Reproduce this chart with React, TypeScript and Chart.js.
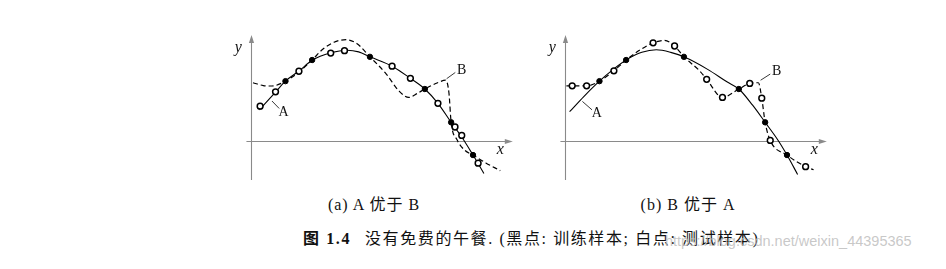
import React, { useEffect, useRef } from "react";
import { Chart, registerables } from "chart.js";

Chart.register(...registerables);

// ---------- data (x, y pairs in plot units; axes cross at 0,0) ----------
const trainPoints = [
  [3.6, 6.37], [6.37, 8.63], [12.37, 8.97], [18.07, 5.53], [20.8, 1.97], [23.07, -1.53],
];

const testPointsA = [
  [0.97, 3.7], [2.57, 5.23], [5.0, 7.43], [8.3, 9.37], [9.73, 9.63], [14.67, 7.97],
  [16.57, 6.67], [19.43, 4.0], [21.2, 1.47], [21.9, 0.57], [23.6, -2.4],
];

const testPointsB = [
  [0.77, 5.87], [2.27, 5.87], [5.1, 7.47], [9.17, 10.47], [11.4, 10.13], [14.73, 6.57],
  [16.37, 4.63], [19.2, 6.13], [20.45, 4.55], [21.33, 0.03], [25.0, -2.77],
];

// curve A / curve B in panel (a)
const curveA_panelA = [
  [0.9, 3.3], [2.57, 5.2], [3.6, 6.37], [5.0, 7.45], [6.37, 8.6], [8.3, 9.4], [10.0, 9.68],
  [11.2, 9.5], [12.37, 8.97], [14.67, 7.97], [16.57, 6.67], [18.07, 5.53], [19.43, 4.0],
  [20.8, 1.97], [21.9, 0.4], [23.07, -1.53], [24.2, -3.5],
];
const curveB_panelA = [
  [0.23, 6.2], [1.3, 5.9], [2.2, 5.85], [3.6, 6.37], [5.0, 7.35], [6.37, 8.63], [7.5, 9.8],
  [8.8, 10.6], [9.9, 10.8], [11.0, 10.4], [12.37, 8.97], [14.07, 7.13], [15.4, 5.3],
  [16.4, 4.63], [17.4, 5.13], [18.07, 5.53], [19.4, 6.2], [20.23, 6.47], [20.57, 5.13],
  [20.8, 1.97], [21.4, 0.13], [22.23, -1.03], [23.07, -1.53], [24.4, -2.37], [25.9, -3.2],
];

// curve A / curve B in panel (b)
const curveA_panelB = [
  [0.5, 3.1], [2.0, 4.75], [3.6, 6.37], [5.0, 7.6], [6.37, 8.63], [8.0, 9.45], [9.5, 9.72],
  [11.0, 9.45], [12.37, 8.97], [14.83, 7.63], [16.83, 6.3], [18.07, 5.53], [19.5, 3.8],
  [20.8, 1.97], [22.17, 0.0], [23.07, -1.53], [24.17, -3.6],
];
const curveB_panelB = [
  [0.17, 5.87], [0.77, 5.87], [2.27, 5.87], [3.6, 6.37], [5.1, 7.47], [6.37, 8.63],
  [7.8, 9.7], [9.17, 10.47], [10.33, 10.73], [11.4, 10.13], [12.37, 8.97], [14.0, 7.47],
  [14.73, 6.57], [16.37, 4.63], [18.07, 5.53], [19.2, 6.13], [20.1, 6.2], [20.45, 4.55],
  [20.8, 1.97], [21.33, 0.03], [23.07, -1.53], [25.0, -2.77], [25.83, -3.1],
];

const captionA = "(a) A 优于 B";
const captionB = "(b) B 优于 A";
const figureNo = "图 1.4";
const figureTitle = "没有免费的午餐. (黑点: 训练样本; 白点: 测试样本)";
const watermark = "https://blog.csdn.net/weixin_44395365";

// ---------- helpers ----------
const toXY = (a: number[][]) => a.map(([x, y]) => ({ x, y }));

type Label = { text: string; at: [number, number]; from: [number, number]; to: [number, number] };

type PanelCfg = {
  curveA: number[][];
  curveB: number[][];
  test: number[][];
  labelA: Label;
  labelB: Label;
};

const decorPlugin = {
  id: "decor",
  beforeDatasetsDraw(chart: any, _a: any, opts: any) {
    const { ctx } = chart;
    const X = (v: number) => chart.scales.x.getPixelForValue(v);
    const Y = (v: number) => chart.scales.y.getPixelForValue(v);
    const col = "#8a8a8a";
    ctx.save();
    ctx.strokeStyle = col;
    ctx.fillStyle = col;
    ctx.lineWidth = 1.1;
    const y0 = Math.round(Y(0)) + 0.5;
    const x0 = Math.round(X(0)) + 0.5;
    const xs = X(opts.xAxis[0]);
    const xe = X(opts.xAxis[1]);
    const yb = Y(opts.yAxis[0]);
    const yt = Y(opts.yAxis[1]);
    ctx.beginPath();
    ctx.moveTo(xs, y0);
    ctx.lineTo(xe - 4, y0);
    ctx.moveTo(x0, yb);
    ctx.lineTo(x0, yt + 4);
    ctx.stroke();
    ctx.beginPath();
    ctx.moveTo(xe, y0);
    ctx.lineTo(xe - 8, y0 - 2.6);
    ctx.lineTo(xe - 8, y0 + 2.6);
    ctx.closePath();
    ctx.fill();
    ctx.beginPath();
    ctx.moveTo(x0, yt);
    ctx.lineTo(x0 - 2.6, yt + 8);
    ctx.lineTo(x0 + 2.6, yt + 8);
    ctx.closePath();
    ctx.fill();
    ctx.restore();
  },
  afterDatasetsDraw(chart: any, _a: any, opts: any) {
    const { ctx } = chart;
    const X = (v: number) => chart.scales.x.getPixelForValue(v);
    const Y = (v: number) => chart.scales.y.getPixelForValue(v);
    ctx.save();
    ctx.fillStyle = "#111";
    ctx.strokeStyle = "#222";
    ctx.textAlign = "center";
    ctx.textBaseline = "middle";
    ctx.font = "italic 16px 'Liberation Serif', 'DejaVu Serif', serif";
    ctx.fillText("y", X(opts.yLabel[0]), Y(opts.yLabel[1]));
    ctx.fillText("x", X(opts.xLabel[0]), Y(opts.xLabel[1]));
    ctx.font = "14px 'Liberation Serif', 'DejaVu Serif', serif";
    for (const l of opts.labels as Label[]) {
      ctx.lineWidth = 0.9;
      ctx.beginPath();
      ctx.moveTo(X(l.from[0]), Y(l.from[1]));
      ctx.lineTo(X(l.to[0]), Y(l.to[1]));
      ctx.stroke();
      ctx.fillText(l.text, X(l.at[0]), Y(l.at[1]));
    }
    ctx.restore();
  },
};

function Panel({ cfg, left, top }: { cfg: PanelCfg; left: number; top: number }) {
  const ref = useRef<HTMLCanvasElement>(null);
  useEffect(() => {
    if (!ref.current) return;
    const chart = new Chart(ref.current, {
      type: "scatter",
      data: {
        datasets: [
          {
            label: "train",
            data: toXY(trainPoints),
            pointRadius: 2.7,
            pointBackgroundColor: "#000",
            pointBorderColor: "#000",
            pointBorderWidth: 1,
            showLine: false,
            order: 0,
          },
          {
            label: "test",
            data: toXY(cfg.test),
            pointRadius: 2.9,
            pointBackgroundColor: "#fff",
            pointBorderColor: "#000",
            pointBorderWidth: 1.5,
            showLine: false,
            order: 1,
          },
          {
            label: "A",
            data: toXY(cfg.curveA),
            showLine: true,
            pointRadius: 0,
            borderColor: "#000",
            borderWidth: 1.1,
            cubicInterpolationMode: "monotone",
            order: 3,
          },
          {
            label: "B",
            data: toXY(cfg.curveB),
            showLine: true,
            pointRadius: 0,
            borderColor: "#000",
            borderWidth: 1.2,
            borderDash: [5, 3],
            cubicInterpolationMode: "monotone",
            order: 2,
          },
        ] as any,
      },
      options: {
        animation: false,
        responsive: false,
        events: [],
        layout: { padding: 0 },
        scales: {
          x: { type: "linear", min: -2, max: 28, display: false },
          y: { type: "linear", min: -5, max: 12, display: false },
        },
        plugins: {
          legend: { display: false },
          tooltip: { enabled: false },
          decor: {
            xAxis: [-0.45, 27.2],
            yAxis: [-4.2, 11.3],
            yLabel: [-1.3, 9.9],
            xLabel: [25.9, -1.0],
            labels: [cfg.labelA, cfg.labelB],
          },
        } as any,
      },
      plugins: [decorPlugin],
    });
    return () => chart.destroy();
  }, [cfg]);
  return (
    <canvas
      ref={ref}
      width={300}
      height={170}
      style={{ position: "absolute", left, top, width: 300, height: 170 }}
    />
  );
}

const panelA: PanelCfg = {
  curveA: curveA_panelA,
  curveB: curveB_panelA,
  test: testPointsA,
  labelA: { text: "A", at: [3.4, 3.07], from: [2.2, 4.25], to: [2.95, 3.45] },
  labelB: { text: "B", at: [21.9, 7.53], from: [20.33, 6.63], to: [21.23, 7.3] },
};
const panelB: PanelCfg = {
  curveA: curveA_panelB,
  curveB: curveB_panelB,
  test: testPointsB,
  labelA: { text: "A", at: [3.33, 2.97], from: [1.83, 4.2], to: [2.83, 3.3] },
  labelB: { text: "B", at: [22.0, 7.47], from: [20.33, 6.47], to: [21.33, 7.13] },
};

const serif = "'Liberation Serif', 'Noto Sans CJK SC', serif";

const subCaption = {
  position: "absolute" as const,
  top: 195,
  transform: "translateX(-50%)",
  whiteSpace: "nowrap" as const,
  font: `16px ${serif}`,
  letterSpacing: "1px",
  lineHeight: "20px",
  color: "#111",
};

export default function App() {
  return (
    <div
      style={{
        position: "absolute",
        left: 0,
        top: 0,
        width: 946,
        height: 269,
        background: "#fff",
        overflow: "hidden",
      }}
    >
      <Panel cfg={panelA} left={226} top={23} />
      <Panel cfg={panelB} left={540} top={23} />
      <div style={{ ...subCaption, left: 374 }}>{captionA}</div>
      <div style={{ ...subCaption, left: 688 }}>{captionB}</div>
      <div
        style={{
          position: "absolute",
          left: 303,
          top: 229,
          whiteSpace: "nowrap",
          font: `16px ${serif}`,
          letterSpacing: "1.6px",
          lineHeight: "20px",
          color: "#111",
        }}
      >
        <span style={{ fontWeight: "bold" }}>{figureNo}</span>
        <span style={{ marginLeft: 14 }}>{figureTitle}</span>
      </div>
      <div
        style={{
          position: "absolute",
          left: 665,
          top: 233,
          whiteSpace: "nowrap",
          font: "14.5px 'Liberation Sans', Arial, sans-serif",
          lineHeight: "16px",
          color: "rgba(190,190,190,0.85)",
        }}
      >
        {watermark}
      </div>
    </div>
  );
}
